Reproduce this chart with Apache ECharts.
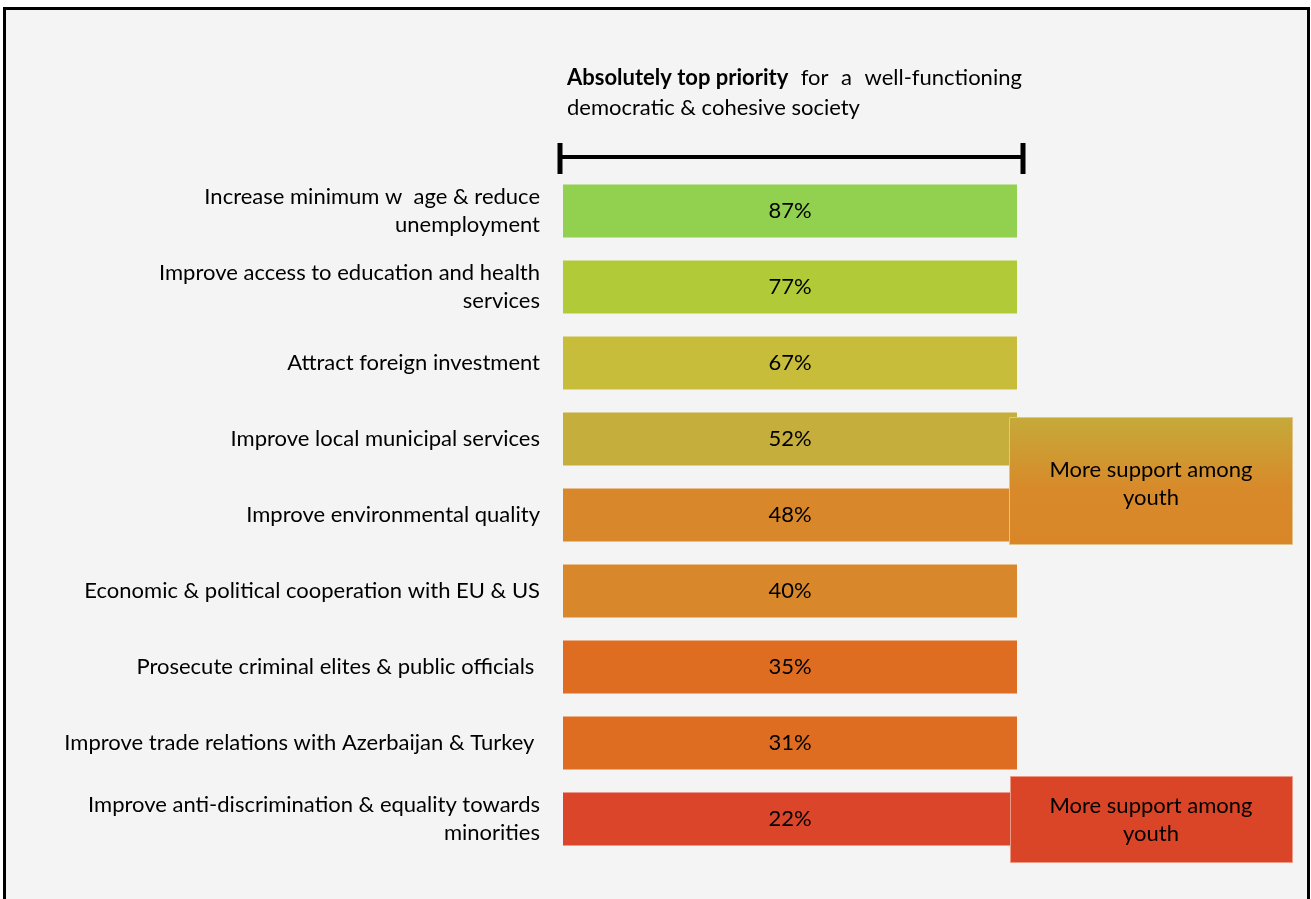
<!DOCTYPE html>
<html>
<head>
<meta charset="utf-8">
<script src="https://cdn.jsdelivr.net/npm/echarts@6/dist/echarts.min.js"></script>
<style>
  html, body { margin: 0; padding: 0; background: #ffffff; }
  #chart { width: 1311px; height: 899px; }
</style>
</head>
<body>
<div id="chart"></div>
<script>
// Priorities, top to bottom
const categories = [
  'Increase minimum w  age & reduce\nunemployment',
  'Improve access to education and health\nservices',
  'Attract foreign investment',
  'Improve local municipal services',
  'Improve environmental quality',
  'Economic & political cooperation with EU & US',
  'Prosecute criminal elites & public officials ',
  'Improve trade relations with Azerbaijan & Turkey ',
  'Improve anti-discrimination & equality towards\nminorities'
];
// Share naming each item an absolutely top priority (%)
const topPriorityShare = [87, 77, 67, 52, 48, 40, 35, 31, 22];
// Fill per row, green (high) to red (low)
const rowColors = ['#92d050', '#b1ca37', '#c8bd3a', '#c5ae3c', '#d8882a', '#d8882a', '#df6d21', '#df6d21', '#db4529'];

const FONT = 'Lato, "Noto Sans", sans-serif';
const chart = echarts.init(document.getElementById('chart'), null, { renderer: 'canvas' });

const option = {
  animation: false,
  backgroundColor: 'transparent',
  grid: { left: 563, right: 294, top: 173, bottom: 42, containLabel: false },
  xAxis: { type: 'value', min: 0, max: 100, show: false },
  yAxis: {
    type: 'category',
    inverse: true,
    data: categories,
    axisLine: { show: false },
    axisTick: { show: false },
    splitLine: { show: false },
    axisLabel: {
      color: '#000',
      fontFamily: FONT,
      fontSize: 22,
      lineHeight: 28,
      margin: 23,
      align: 'right'
    }
  },
  series: [{
    type: 'custom',
    encode: { x: 0, y: 1 },
    data: topPriorityShare.map((v, i) => [v, i]),
    z: 2,
    renderItem: function (params, api) {
      const share = api.value(0);
      const mid = api.coord([0, api.value(1)]);
      const cs = params.coordSys;
      const h = api.size([0, 1])[1] * 0.7;
      return {
        type: 'group',
        children: [{
          type: 'rect',
          shape: { x: cs.x, y: mid[1] - h / 2, width: cs.width, height: h },
          style: { fill: rowColors[params.dataIndex] }
        }, {
          type: 'text',
          style: {
            x: cs.x + cs.width / 2,
            y: mid[1],
            text: share + '%',
            fill: '#000',
            font: '22px ' + FONT,
            align: 'center',
            verticalAlign: 'middle'
          }
        }]
      };
    }
  }],
  graphic: [
    // page panel with black frame
    { type: 'rect', z: -10, silent: true,
      shape: { x: 4.5, y: 8.5, width: 1304, height: 905 },
      style: { fill: '#f4f4f4', stroke: '#000', lineWidth: 3 } },
    // heading, first line spread to the bracket width
    { type: 'text', z: 5, left: 567, top: 63,
      style: {
        text: '{b|Absolutely top priority}{s| }for{s| }a{s| }well-functioning',
        font: '22px ' + FONT, fill: '#000', lineHeight: 30,
        rich: {
          b: { fontWeight: 'bold', fontSize: 22, fontFamily: FONT, fill: '#000', lineHeight: 30 },
          s: { width: 12.5, fontSize: 22, fontFamily: FONT, lineHeight: 30 }
        }
      } },
    { type: 'text', z: 5, left: 567, top: 93,
      style: { text: 'democratic & cohesive society', font: '22px ' + FONT, fill: '#000', lineHeight: 30 } },
    // range bracket above the rows
    { type: 'line', z: 5, shape: { x1: 560, y1: 157, x2: 1023, y2: 157 }, style: { stroke: '#000', lineWidth: 4 } },
    { type: 'line', z: 5, shape: { x1: 560, y1: 143, x2: 560, y2: 174 }, style: { stroke: '#000', lineWidth: 5 } },
    { type: 'line', z: 5, shape: { x1: 1023, y1: 143, x2: 1023, y2: 174 }, style: { stroke: '#000', lineWidth: 5 } },
    // youth notes
    { type: 'rect', z: 50,
      shape: { x: 1009.5, y: 417.5, width: 283, height: 127 },
      style: {
        fill: new echarts.graphic.LinearGradient(0, 0, 0, 1, [
          { offset: 0, color: '#c5aa3a' }, { offset: 0.55, color: '#d88a2a' }, { offset: 1, color: '#d88628' }
        ]),
        stroke: '#e2c48a', lineWidth: 1
      } },
    { type: 'text', z: 51, silent: true,
      style: { x: 1151, y: 484, text: 'More support among\nyouth', font: '22px ' + FONT, fill: '#000',
        align: 'center', verticalAlign: 'middle', lineHeight: 28 } },
    { type: 'rect', z: 50,
      shape: { x: 1010.5, y: 776.5, width: 282, height: 86 },
      style: { fill: '#da4528', stroke: '#ec9a86', lineWidth: 1 } },
    { type: 'text', z: 51, silent: true,
      style: { x: 1151, y: 820, text: 'More support among\nyouth', font: '22px ' + FONT, fill: '#000',
        align: 'center', verticalAlign: 'middle', lineHeight: 28 } }
  ]
};

chart.setOption(option);
</script>
</body>
</html>
